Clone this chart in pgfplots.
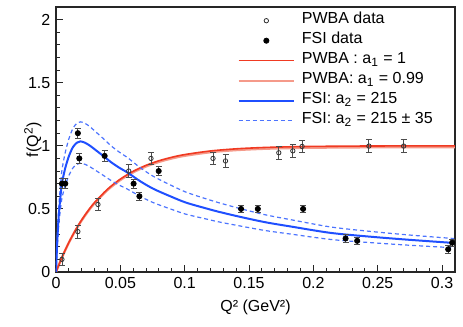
\documentclass[border=0pt]{standalone}
\usepackage{fontspec}
\setmainfont{Liberation Sans}
\usepackage{pgfplots}
\pgfplotsset{compat=1.18}
\definecolor{fsiblue}{HTML}{1F4FFF}
\definecolor{fsidash}{HTML}{4C74FF}
\definecolor{pwred}{HTML}{F03A22}
\definecolor{pwpink}{HTML}{F59A8A}
\pgfplotsset{
  databars/.style={error bars/.cd, y dir=both, y explicit,
    error bar style={black!70, line width=0.4pt},
    error mark options={rotate=90, mark size=1.5pt, black!70, line width=0.4pt}},
}

\begin{document}
\fontsize{8}{9.6}\selectfont
\begin{tikzpicture}
\useasboundingbox (-28pt,-27.5pt) rectangle (203.5pt,136pt);
\begin{axis}[
  at={(0pt,0pt)}, anchor=south west,
  scale only axis, width=199.5pt, height=132.5pt,
  xmin=0, xmax=0.31, ymin=0, ymax=2.1,
  xtick={0,0.05,0.1,0.15,0.2,0.25,0.3},
  xticklabels={0,0.05,0.1,0.15,0.2,0.25,0.3},
  ytick={0,0.5,1,1.5,2},
  yticklabels={0,0.5,1,1.5,2},
  minor x tick num=4, minor y tick num=4,
  tick align=inside, xtick pos=left, ytick pos=left,
  major tick length=3.5pt, minor tick length=2pt,
  axis line style={black!85, line width=0.6pt},
  tick style={black!85, line width=0.5pt},
  /pgf/number format/assume math mode=true,
  every axis y label/.style={at={(axis description cs:-0.058,0.5)}, rotate=90, anchor=center},
  every axis x label/.style={at={(axis description cs:0.5,-0.134)}, anchor=center},
  xlabel={Q² (GeV²)},
  ylabel={f(Q\textsuperscript{2})},
  legend image code/.code={\draw[mark repeat=2,mark phase=2,#1] plot coordinates {(0pt,0pt) (13.9pt,0pt) (27.8pt,0pt)};},
  legend style={draw=none, fill=none, at={(0.455,0.986)}, anchor=north west,
    inner sep=0pt, outer sep=0pt,
    nodes={inner xsep=0pt, inner ysep=0pt, text height=6.5pt, text depth=3.5pt},
    /tikz/every odd column/.append style={column sep=3.4pt}},
  legend cell align=left,
]
\addlegendimage{only marks, mark=o, mark size=1.1pt, black!80, mark options={fill=white}}
\addlegendentry{PWBA data}
\addlegendimage{only marks, mark=*, mark size=1.3pt, black}
\addlegendentry{FSI data}
\addlegendimage{pwred, line width=0.5pt}
\addlegendentry{PWBA : a\textsubscript{1} = 1}
\addlegendimage{pwpink, line width=1pt}
\addlegendentry{PWBA: a\textsubscript{1} = 0.99}
\addlegendimage{fsiblue, line width=1pt}
\addlegendentry{FSI: a\textsubscript{2} = 215}
\addlegendimage{fsidash, line width=0.6pt, dash pattern=on 2pt off 1.5pt}
\addlegendentry{FSI: a\textsubscript{2} = 215 ± 35}

% PWBA curves
\addplot[forget plot, pwpink, line width=1.2pt, smooth] coordinates {
  (0,0) (0.005,0.1236) (0.01,0.2318) (0.015,0.3264) (0.02,0.4093) (0.025,0.4817)
  (0.03,0.5452) (0.04,0.6492) (0.05,0.729) (0.06,0.7901) (0.07,0.8369) (0.08,0.8728)
  (0.09,0.9002) (0.1,0.9212) (0.12,0.9496) (0.14,0.9663) (0.16,0.9761) (0.18,0.9819)
  (0.2,0.9852) (0.24,0.9884) (0.28,0.9894) (0.31,0.9897)};
\addplot[forget plot, pwred, line width=0.8pt, smooth] coordinates {
  (0,0) (0.005,0.1248) (0.01,0.2341) (0.015,0.3297) (0.02,0.4134) (0.025,0.4866)
  (0.03,0.5507) (0.04,0.6558) (0.05,0.7364) (0.06,0.7981) (0.07,0.8454) (0.08,0.8816)
  (0.09,0.9093) (0.1,0.9305) (0.12,0.9592) (0.14,0.9761) (0.16,0.986) (0.18,0.9918)
  (0.2,0.9952) (0.24,0.9983) (0.28,0.9994) (0.31,0.9997)};

% FSI curves
\addplot[forget plot, fsidash, line width=0.6pt, dash pattern=on 2pt off 1.5pt, smooth] coordinates {
  (0,0) (0.0008,0.23) (0.0017,0.437) (0.0025,0.564) (0.0034,0.679) (0.0046,0.805)
  (0.0071,0.943) (0.0101,1.058) (0.0132,1.139) (0.0163,1.179) (0.0189,1.19)
  (0.0224,1.179) (0.0265,1.15) (0.0316,1.104) (0.0367,1.058) (0.0428,1.0)
  (0.0489,0.952) (0.056,0.903) (0.0653,0.828) (0.0755,0.759) (0.0888,0.69)
  (0.101,0.633) (0.1163,0.581) (0.1265,0.549) (0.1418,0.506) (0.1623,0.454)
  (0.1827,0.414) (0.2133,0.357) (0.244,0.322) (0.2746,0.293) (0.3093,0.265)};
\addplot[forget plot, fsidash, line width=0.6pt, dash pattern=on 2pt off 1.5pt, smooth] coordinates {
  (0,0) (0.0008,0.167) (0.0017,0.317) (0.0025,0.408) (0.0034,0.491) (0.0046,0.583)
  (0.0071,0.683) (0.0101,0.766) (0.0132,0.825) (0.0163,0.854) (0.0189,0.862)
  (0.0224,0.854) (0.0265,0.833) (0.0316,0.8) (0.0367,0.766) (0.0428,0.725)
  (0.0489,0.69) (0.056,0.654) (0.0653,0.6) (0.0755,0.55) (0.0888,0.5)
  (0.101,0.458) (0.1163,0.421) (0.1265,0.397) (0.1418,0.367) (0.1623,0.329)
  (0.1827,0.3) (0.2133,0.258) (0.244,0.233) (0.2746,0.212) (0.3093,0.192)};
\addplot[forget plot, fsiblue, line width=1pt, smooth] coordinates {
  (0,0) (0.0008,0.2) (0.0017,0.38) (0.0025,0.49) (0.0034,0.59) (0.0046,0.70)
  (0.0071,0.82) (0.0101,0.92) (0.0132,0.99) (0.0163,1.025) (0.0189,1.035)
  (0.0224,1.025) (0.0265,1.0) (0.0316,0.96) (0.0367,0.92) (0.0428,0.87)
  (0.0489,0.828) (0.056,0.785) (0.0653,0.72) (0.0755,0.66) (0.0888,0.60)
  (0.101,0.55) (0.1163,0.505) (0.1265,0.477) (0.1418,0.44) (0.1623,0.395)
  (0.1827,0.36) (0.2133,0.31) (0.244,0.28) (0.2746,0.255) (0.3093,0.23)};

% PWBA data
\addplot[forget plot, only marks, mark=o, mark size=1.1pt, black!80, mark options={fill=white}, databars]
  coordinates {
  (0.0046,0.10) +- (0,0.05) (0.0170,0.32) +- (0,0.05) (0.0326,0.535) +- (0,0.05)
  (0.0565,0.80) +- (0,0.05) (0.0738,0.90) +- (0,0.05) (0.1220,0.90) +- (0,0.05)
  (0.1317,0.88) +- (0,0.05) (0.1731,0.945) +- (0,0.05) (0.1840,0.96) +- (0,0.05)
  (0.1912,0.995) +- (0,0.05) (0.2431,0.998) +- (0,0.05) (0.2701,0.998) +- (0,0.05)};

% FSI data
\addplot[forget plot, only marks, mark=*, mark size=1.3pt, black, databars]
  coordinates {
  (0.0046,0.70) +- (0,0.04) (0.0072,0.70) +- (0,0.04) (0.0170,1.10) +- (0,0.04)
  (0.0181,0.90) +- (0,0.04) (0.0378,0.92) +- (0,0.04) (0.0603,0.70) +- (0,0.035)
  (0.0648,0.60) +- (0,0.03) (0.0798,0.80) +- (0,0.035) (0.1438,0.50) +- (0,0.03)
  (0.1568,0.50) +- (0,0.03) (0.1920,0.50) +- (0,0.03) (0.2250,0.266) +- (0,0.03)
  (0.2340,0.247) +- (0,0.03) (0.3047,0.18) +- (0,0.03) (0.3078,0.232) +- (0,0.03)};
\end{axis}
\end{tikzpicture}
\end{document}
